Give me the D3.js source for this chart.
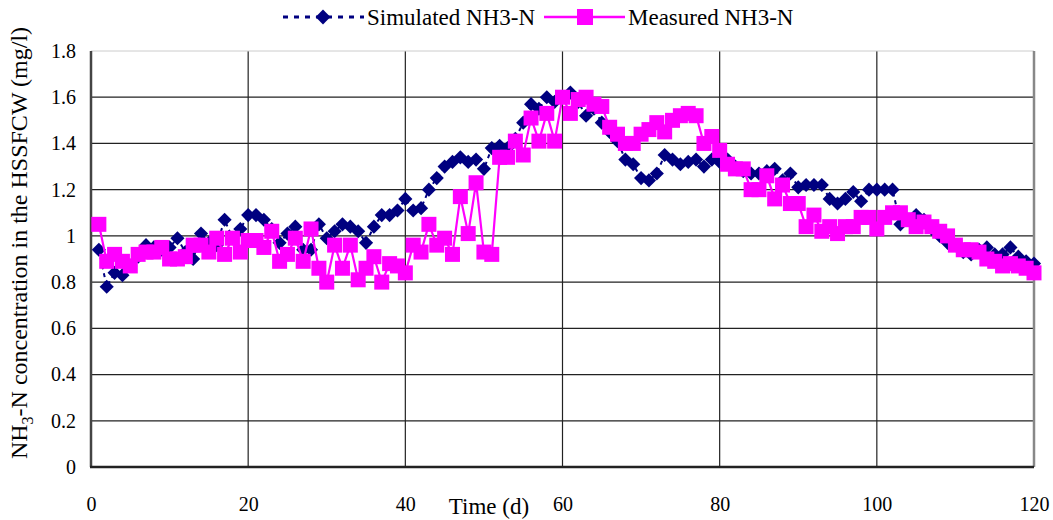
<!DOCTYPE html>
<html><head><meta charset="utf-8">
<script src="https://cdn.jsdelivr.net/npm/d3@7"></script>
<style>body{margin:0;background:#fff}svg{display:block}text{font-family:"Liberation Serif","Times New Roman",serif}</style>
</head><body><svg id="c" width="1053" height="520"></svg>
<script>
const days = d3.range(1, 121);
const simulated = [0.94,0.78,0.84,0.83,0.87,0.91,0.96,0.95,0.94,0.95,
0.99,0.93,0.90,1.01,0.97,0.96,1.07,0.99,1.03,1.09,
1.09,1.07,1.03,0.97,1.01,1.04,0.94,0.94,1.05,0.99,
1.02,1.05,1.04,1.02,0.97,1.04,1.09,1.09,1.11,1.16,
1.11,1.12,1.20,1.25,1.30,1.32,1.34,1.32,1.33,1.29,
1.38,1.39,1.38,1.42,1.49,1.57,1.55,1.60,1.58,1.60,
1.62,1.58,1.52,1.55,1.49,1.45,1.41,1.33,1.31,1.25,
1.24,1.27,1.35,1.33,1.31,1.32,1.33,1.30,1.33,1.32,
1.33,1.30,1.28,1.27,1.27,1.28,1.29,1.24,1.27,1.21,
1.22,1.22,1.22,1.16,1.14,1.16,1.19,1.15,1.20,1.20,
1.20,1.20,1.05,1.07,1.09,1.07,1.03,1.00,0.97,0.96,
0.93,0.92,0.94,0.95,0.92,0.92,0.95,0.91,0.89,0.88];
const measured = [1.05,0.89,0.92,0.89,0.87,0.92,0.93,0.93,0.95,0.90,
0.90,0.91,0.96,0.96,0.93,0.99,0.92,0.99,0.93,0.98,
0.98,0.95,1.02,0.89,0.92,0.99,0.89,1.03,0.86,0.80,
0.96,0.86,0.96,0.81,0.86,0.91,0.80,0.88,0.87,0.84,
0.96,0.93,1.05,0.96,0.99,0.92,1.17,1.01,1.23,0.93,
0.92,1.34,1.34,1.41,1.35,1.51,1.41,1.53,1.41,1.60,
1.53,1.59,1.60,1.57,1.56,1.47,1.44,1.40,1.40,1.44,
1.46,1.49,1.45,1.50,1.52,1.53,1.52,1.40,1.43,1.37,
1.31,1.29,1.29,1.20,1.20,1.26,1.16,1.22,1.14,1.14,
1.04,1.09,1.02,1.04,1.01,1.04,1.04,1.08,1.08,1.03,
1.08,1.10,1.10,1.07,1.04,1.06,1.04,1.02,1.00,0.96,
0.94,0.94,0.93,0.90,0.89,0.87,0.88,0.87,0.86,0.84];
const xTicks = [0,20,40,60,80,100,120];
const yTicks = [0,0.2,0.4,0.6,0.8,1,1.2,1.4,1.6,1.8];
const seriesNames = ["Simulated NH3-N","Measured NH3-N"];

const svg = d3.select("#c");
const L=91,R=1034,T=51,B=467;
const x = d3.scaleLinear().domain([0,120]).range([L,R]);
const y = d3.scaleLinear().domain([0,1.8]).range([B,T]);

// gridlines
svg.append("g").selectAll("line").data(yTicks.slice(1,-1)).join("line")
  .attr("x1",L).attr("x2",R).attr("y1",d=>y(d)).attr("y2",d=>y(d))
  .attr("stroke","#222").attr("stroke-width",1.2);
svg.append("g").selectAll("line").data(xTicks.slice(1,-1)).join("line")
  .attr("y1",T).attr("y2",B).attr("x1",d=>x(d)).attr("x2",d=>x(d))
  .attr("stroke","#222").attr("stroke-width",1.2);
// border
svg.append("line").attr("x1",L).attr("x2",R).attr("y1",T).attr("y2",T).attr("stroke","#ccc").attr("stroke-width",1);
svg.append("line").attr("x1",R).attr("x2",R).attr("y1",T).attr("y2",B).attr("stroke","#888").attr("stroke-width",2.5);
svg.append("line").attr("x1",L).attr("x2",L).attr("y1",T).attr("y2",B).attr("stroke","#444").attr("stroke-width",2.5);
svg.append("line").attr("x1",L-1).attr("x2",R).attr("y1",B).attr("y2",B).attr("stroke","#222").attr("stroke-width",2.5);

// axes labels
const yAxis = d3.axisLeft(y).tickValues(yTicks).tickSize(0).tickPadding(15).tickFormat(d3.format("~g"));
const gy = svg.append("g").attr("transform",`translate(${L},0)`).call(yAxis);
gy.select(".domain").remove();
gy.selectAll("text").attr("font-size",20).attr("fill","#000").attr("font-family","Liberation Serif");
const xAxis = d3.axisBottom(x).tickValues(xTicks).tickSize(0).tickPadding(30).tickFormat(d3.format("d"));
const gx = svg.append("g").attr("transform",`translate(0,${B})`).call(xAxis);
gx.select(".domain").remove();
gx.selectAll("text").attr("font-size",20).attr("fill","#000").attr("font-family","Liberation Serif");

svg.append("text").attr("x",489).attr("y",514).attr("text-anchor","middle").attr("font-size",23).text("Time (d)");
const yl = svg.append("text").attr("transform","translate(27,243) rotate(-90)").attr("text-anchor","middle").attr("font-size",24);
yl.append("tspan").text("NH");
yl.append("tspan").attr("font-size",16).attr("dy",6).text("3");
yl.append("tspan").attr("dy",-6).text("-N concentration in the HSSFCW (mg/l)");

// series
const simData = days.map((d,i)=>[d,simulated[i]]);
const meaData = days.map((d,i)=>[d,measured[i]]);
const line = d3.line().x(d=>x(d[0])).y(d=>y(d[1]));
svg.append("path").datum(simData).attr("d",line).attr("fill","none")
  .attr("stroke","#000080").attr("stroke-width",2).attr("stroke-dasharray","4,4");
const diamond = d3.symbol().type(d3.symbolSquare).size(100);
svg.append("g").selectAll("path").data(simData).join("path")
  .attr("d",diamond()).attr("transform",d=>`translate(${x(d[0])},${y(d[1])}) rotate(45)`)
  .attr("fill","#000080");
svg.append("path").datum(meaData).attr("d",line).attr("fill","none")
  .attr("stroke","#ff00ff").attr("stroke-width",2.2);
svg.append("g").selectAll("rect").data(meaData).join("rect")
  .attr("x",d=>x(d[0])-7.5).attr("y",d=>y(d[1])-7.5).attr("width",15).attr("height",15)
  .attr("fill","#ff00ff");

// legend
const lg = svg.append("g");
lg.append("line").attr("x1",283).attr("x2",364).attr("y1",17).attr("y2",17)
  .attr("stroke","#000080").attr("stroke-width",3).attr("stroke-dasharray","5,6");
lg.append("path").attr("d",d3.symbol().type(d3.symbolSquare).size(110)())
  .attr("transform","translate(323,17) rotate(45)").attr("fill","#000080");
lg.append("text").attr("x",367).attr("y",25).attr("font-size",23).text(seriesNames[0]);
lg.append("line").attr("x1",544).attr("x2",625).attr("y1",17).attr("y2",17)
  .attr("stroke","#ff00ff").attr("stroke-width",2.5);
lg.append("rect").attr("x",577).attr("y",9).attr("width",16).attr("height",16).attr("fill","#ff00ff");
lg.append("text").attr("x",628).attr("y",25).attr("font-size",23).text(seriesNames[1]);
</script></body></html>
